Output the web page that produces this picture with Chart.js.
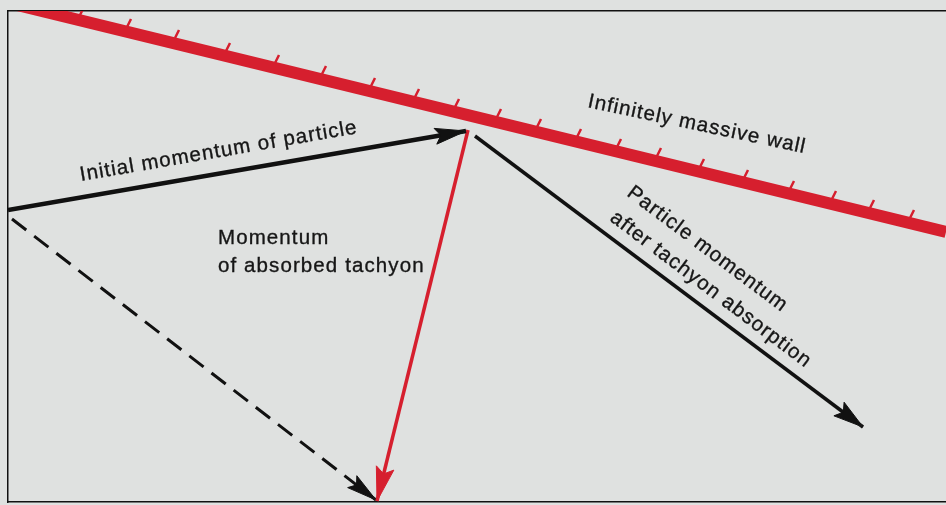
<!DOCTYPE html>
<html>
<head>
<meta charset="utf-8">
<script src="https://cdn.jsdelivr.net/npm/chart.js@4"></script>
<style>
  html, body { margin: 0; padding: 0; background: #dfe1e0; }
  #wrap { width: 946px; height: 505px; position: relative; }
</style>
</head>
<body>
<div id="wrap"><canvas id="diagram"></canvas></div>
<script>
// Wall (straight line, diagram units, y grows downward)
const wallX = [8, 946];
const wallY = [2.7, 232];

// Hatch marks on the wall (base of each mark)
const hatchX = [80, 127, 175, 226, 275, 322, 371, 415, 455, 497, 537, 577, 617, 657, 700, 744, 790, 832, 870, 910];
const hatchY = [15, 27, 38, 51, 63, 74, 86, 97, 107, 117, 127, 137, 147, 156, 167, 178, 189, 199, 208, 218];

// Vectors (start, tip)
const initialX = [8, 466];
const initialY = [210, 131];
const tachyonX = [468, 377];
const tachyonY = [130, 501];
const sumX = [12, 376];
const sumY = [219, 500];
const afterX = [475, 863];
const afterY = [136, 427];

// Labels
const notes = [
  { text: 'Initial momentum of particle', x: 81, y: 181, angle: -9.8 },
  { text: 'Infinitely massive wall', x: 587, y: 107, angle: 12 },
  { text: 'Momentum', x: 218, y: 244, angle: 0 },
  { text: 'of absorbed tachyon', x: 218, y: 272, angle: 0 },
  { text: 'Particle momentum', x: 626, y: 195, angle: 37 },
  { text: 'after tachyon absorption', x: 609, y: 220, angle: 37 }
];

const RED = '#d61f2e';
const INK = '#111111';

function pts(xs, ys) {
  return xs.map((x, i) => ({ x: x, y: ys[i] }));
}

const hatchData = [];
hatchX.forEach((x, i) => {
  hatchData.push({ x: x, y: hatchY[i] }, { x: x + 4, y: hatchY[i] - 8 }, { x: x + 4, y: null });
});

// Arrow heads: cut the line under the head, then fill the head
function headPath(ctx, a, b, len, half) {
  const ang = Math.atan2(b.y - a.y, b.x - a.x);
  const c = Math.cos(ang), s = Math.sin(ang);
  const p = (u, v) => [b.x + u * c - v * s, b.y + u * s + v * c];
  const t = p(0, 0), l = p(-len, -half), n = p(-len * 0.82, 0), r = p(-len, half);
  ctx.moveTo(t[0], t[1]);
  ctx.lineTo(l[0], l[1]);
  ctx.lineTo(n[0], n[1]);
  ctx.lineTo(r[0], r[1]);
  ctx.closePath();
}

const arrowHeads = {
  id: 'arrowHeads',
  beforeDatasetDraw(chart, args) {
    const ds = chart.data.datasets[args.index];
    if (!ds.head) return;
    const d = args.meta.data;
    const ctx = chart.ctx;
    ctx.save();
    ctx.beginPath();
    ctx.rect(0, 0, chart.width, chart.height);
    headPath(ctx, d[d.length - 2], d[d.length - 1], ds.head[0] * 0.8, ds.head[1] * 0.8);
    ctx.clip('evenodd');
  },
  afterDatasetDraw(chart, args) {
    const ds = chart.data.datasets[args.index];
    if (!ds.head) return;
    const ctx = chart.ctx;
    ctx.restore();
    const d = args.meta.data;
    ctx.save();
    ctx.beginPath();
    headPath(ctx, d[d.length - 2], d[d.length - 1], ds.head[0], ds.head[1]);
    ctx.fillStyle = ds.borderColor;
    ctx.strokeStyle = ds.borderColor;
    ctx.lineWidth = 1;
    ctx.lineJoin = 'round';
    ctx.fill();
    ctx.stroke();
    ctx.restore();
  }
};

const labels = {
  id: 'labels',
  afterDatasetsDraw(chart) {
    const ctx = chart.ctx;
    const xs = chart.scales.x, ys = chart.scales.y;
    ctx.save();
    ctx.font = '20.5px "Liberation Sans", Arial, sans-serif';
    ctx.letterSpacing = '1.1px';
    ctx.fillStyle = '#161616';
    ctx.strokeStyle = '#161616';
    ctx.lineWidth = 0.35;
    ctx.textAlign = 'left';
    ctx.textBaseline = 'alphabetic';
    notes.forEach(n => {
      ctx.save();
      ctx.translate(xs.getPixelForValue(n.x), ys.getPixelForValue(n.y));
      ctx.rotate(n.angle * Math.PI / 180);
      ctx.fillText(n.text, 0, 0);
      ctx.strokeText(n.text, 0, 0);
      ctx.restore();
    });
    ctx.restore();
  }
};

const frame = {
  display: true,
  ticks: { display: false },
  grid: { display: false, drawTicks: false },
  border: { display: true, color: INK, width: 1.5 }
};

new Chart(document.getElementById('diagram'), {
  type: 'scatter',
  data: {
    datasets: [
      { data: pts(initialX, initialY), showLine: true, borderColor: INK, borderWidth: 4.5, pointRadius: 0, head: [31, 8], order: 1 },
      { data: pts(tachyonX, tachyonY), showLine: true, borderColor: RED, borderWidth: 3.5, pointRadius: 0, head: [34, 9], order: 1 },
      { data: pts(sumX, sumY), showLine: true, borderColor: INK, borderWidth: 3, borderDash: [18, 10], pointRadius: 0, head: [30, 7.5], order: 1 },
      { data: pts(afterX, afterY), showLine: true, borderColor: INK, borderWidth: 3.5, pointRadius: 0, head: [30, 8.5], order: 1 },
      { data: hatchData, showLine: true, borderColor: RED, borderWidth: 2.5, pointRadius: 0, clip: 0, order: 4 },
      { data: pts(wallX, wallY), showLine: true, borderColor: RED, borderWidth: 12, borderCapStyle: 'butt', pointRadius: 0, clip: 0, order: 5 }
    ]
  },
  options: {
    responsive: true,
    maintainAspectRatio: false,
    animation: false,
    events: [],
    layout: { padding: { left: 8, top: 11, right: 0, bottom: 3 } },
    plugins: { legend: { display: false }, tooltip: { enabled: false } },
    scales: {
      x: Object.assign({ type: 'linear', position: 'bottom', min: 8, max: 946 }, frame),
      xTop: Object.assign({ type: 'linear', position: 'top', min: 8, max: 946 }, frame),
      y: Object.assign({ type: 'linear', position: 'left', min: 11, max: 502, reverse: true }, frame)
    }
  },
  plugins: [arrowHeads, labels]
});
</script>
</body>
</html>
